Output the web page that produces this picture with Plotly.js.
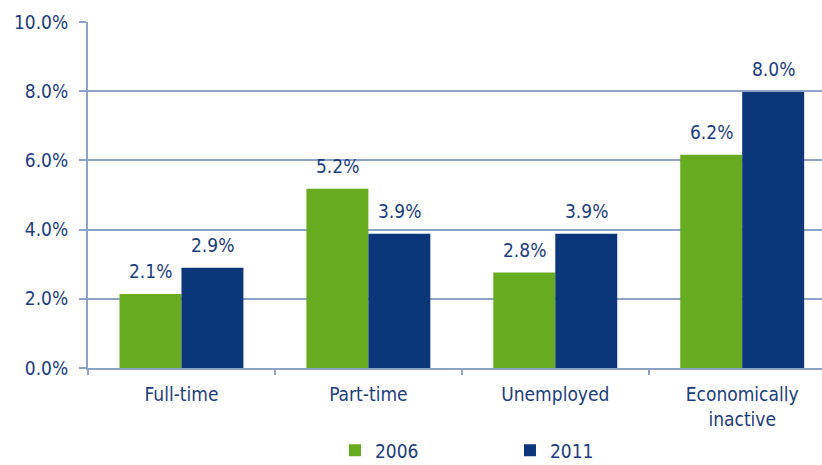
<!DOCTYPE html>
<html>
<head>
<meta charset="utf-8">
<script src="https://cdn.plot.ly/plotly-3.0.1.min.js"></script>
<style>html,body{margin:0;padding:0;background:#fff}#chart{width:822px;height:465px}</style>
</head>
<body>
<div id="chart"></div>
<script>
const categories = ["Full-time", "Part-time", "Unemployed", "Economically<br>inactive"];
const series2006 = [2.14, 5.18, 2.76, 6.16];
const series2011 = [2.9, 3.88, 3.88, 7.98];
const yTickVals = [0, 2, 4, 6, 8, 10];
const yTickText = ["0.0%", "2.0%", "4.0%", "6.0%", "8.0%", "10.0%"];

const green = "#66AB20";
const blue = "#0B3679";
const textCol = "#1C3D7A";
const axisCol = "#8EA3C3";
const font = "DejaVu Sans Condensed, DejaVu Sans, sans-serif";
const fs = 19;

const traces = [
  {type: "bar", name: "2006", x: categories, y: series2006, marker: {color: green}},
  {type: "bar", name: "2011", x: categories, y: series2011, marker: {color: blue}}
];

const annotations = [];
[[series2006, -31], [series2011, 31]].forEach(([vals, dx]) => {
  vals.forEach((v, i) => {
    annotations.push({
      x: categories[i], y: v, xref: "x", yref: "y",
      text: v.toFixed(1) + "%", showarrow: false,
      xanchor: "center", yanchor: "bottom", xshift: dx, yshift: 10,
      font: {family: font, size: fs, color: textCol}
    });
  });
});

const layout = {
  width: 822, height: 465,
  margin: {l: 88, r: 0, t: 22, b: 97, autoexpand: false},
  paper_bgcolor: "#fff", plot_bgcolor: "#fff",
  barmode: "group", bargap: 0.337, bargroupgap: 0,
  font: {family: font, size: fs, color: textCol},
  xaxis: {
    range: [-0.5, 3.427], fixedrange: true, automargin: false,
    showline: true, linecolor: axisCol, linewidth: 2,
    ticks: "outside", tickson: "boundaries", ticklen: 5, tickcolor: axisCol, tickwidth: 2,
    showgrid: false, ticklabelstandoff: 8,
    tickfont: {family: font, size: fs, color: textCol}
  },
  yaxis: {
    range: [0, 10], tickvals: yTickVals, ticktext: yTickText, automargin: false,
    showline: true, linecolor: axisCol, linewidth: 2,
    ticks: "outside", ticklen: 7, tickcolor: axisCol, tickwidth: 2,
    showgrid: true, gridcolor: axisCol, gridwidth: 2, zeroline: false,
    ticklabelstandoff: 7,
    tickfont: {family: font, size: fs, color: textCol}
  },
  showlegend: true,
  legend: {orientation: "h", x: 0.3365, xanchor: "left", y: -0.183, yanchor: "top",
    font: {family: font, size: fs, color: textCol}, entrywidth: 130, entrywidthmode: "pixels"},
  annotations: annotations
};

Plotly.newPlot("chart", traces, layout, {displayModeBar: false, staticPlot: true});
</script>
</body>
</html>
